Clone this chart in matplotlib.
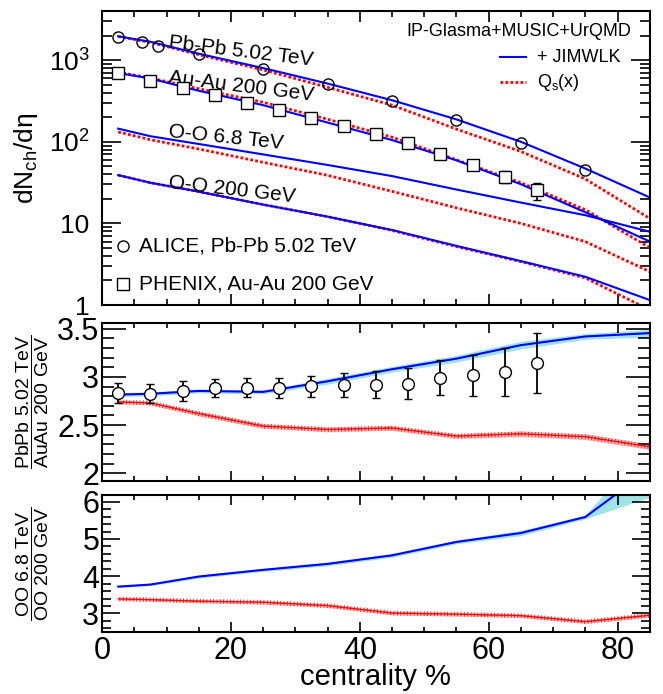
import numpy as np
import matplotlib
matplotlib.use('Agg')
import matplotlib.pyplot as plt
import matplotlib.patheffects as pe
from matplotlib.ticker import MultipleLocator, LogLocator, FixedLocator, NullFormatter

plt.rcParams['font.family'] = ['Liberation Sans', 'DejaVu Sans']
plt.rcParams['mathtext.fontset'] = 'custom'
plt.rcParams['mathtext.rm'] = 'Liberation Sans'
plt.rcParams['mathtext.it'] = 'Liberation Sans:italic'
plt.rcParams['mathtext.bf'] = 'Liberation Sans:bold'

# model centrality bins
cent_model = [2.5, 7.5, 15, 25, 35, 45, 55, 65, 75, 85]

pbpb_jimwlk = [1960, 1680, 1200, 800, 517, 323, 188, 100, 47, 20.8]
pbpb_qsx = [1950, 1650, 1170, 760, 465, 281, 143, 76, 35, 11.5]
auau_jimwlk = [696, 596, 422, 281, 172, 105, 59.3, 30.2, 13.7, 6.0]
auau_qsx = [712, 604, 447, 305, 189, 114, 60, 31.5, 14.7, 5.05]
oo68_jimwlk = [145, 117, 94, 70, 52, 38, 26, 18, 12.6, 7.9]
oo68_qsx = [132, 106, 81.6, 56, 38.8, 24.7, 15.5, 10, 5.98, 2.57]
oo200_jimwlk = [39, 31.5, 24.5, 17, 12.1, 8.3, 5.3, 3.45, 2.22, 1.15]
oo200_qsx = [39, 31.5, 24.5, 17, 12.1, 8.2, 5.2, 3.4, 2.15, 0.87]

# data
alice_cent = [2.5, 6.25, 8.75, 15, 25, 35, 45, 55, 65, 75]
alice_dndeta = [1943, 1666, 1505, 1180, 786, 512, 318, 183, 96.3, 44.9]
phenix_cent = [2.5, 7.5, 12.5, 17.5, 22.5, 27.5, 32.5, 37.5, 42.5, 47.5, 52.5, 57.5, 62.5, 67.5]
phenix_dndeta = [687.4, 560.4, 456.8, 371.5, 302.5, 245.6, 197.2, 156.4, 123.5, 95.3, 70.9, 52.2, 37.5, 25.6]
phenix_err = [37, 28, 23, 19, 16, 14, 12, 10, 9, 8, 6.5, 6, 6.5, 6]

# ratios
ratio_pbau_jimwlk = [2.817, 2.825, 2.855, 2.845, 2.955, 3.08, 3.19, 3.33, 3.42, 3.455]
ratio_pbau_jimwlk_err = [0.02, 0.02, 0.02, 0.02, 0.03, 0.03, 0.035, 0.04, 0.03, 0.04]
ratio_pbau_qsx = [2.74, 2.73, 2.62, 2.49, 2.455, 2.47, 2.386, 2.41, 2.38, 2.276]
ratio_pbau_qsx_err = [0.02, 0.02, 0.025, 0.025, 0.025, 0.025, 0.025, 0.03, 0.03, 0.03]
ratio_pbau_data = [2.834, 2.828, 2.855, 2.886, 2.890, 2.886, 2.903, 2.914, 2.921, 2.931, 2.993, 3.017, 3.052, 3.145]
ratio_pbau_data_err = [0.10, 0.10, 0.10, 0.095, 0.095, 0.10, 0.11, 0.125, 0.14, 0.16, 0.18, 0.21, 0.25, 0.31]

ratio_oo_jimwlk = [3.72, 3.775, 3.99, 4.17, 4.33, 4.56, 4.92, 5.16, 5.59, 6.87]
ratio_oo_jimwlk_err = [0.03, 0.03, 0.04, 0.04, 0.05, 0.05, 0.05, 0.07, 0.05, 0.75]
ratio_oo_qsx = [3.39, 3.37, 3.33, 3.30, 3.21, 3.01, 2.98, 2.94, 2.78, 2.95]
ratio_oo_qsx_err = [0.04, 0.04, 0.04, 0.05, 0.05, 0.05, 0.05, 0.05, 0.05, 0.05]

BLUE = '#0000ff'
RED = '#ff0000'
CYAN_BAND = '#9fe3e6'
RED_BAND = '#ebb3b3'
DOTS = (0, (1.0, 0.8))
# ROOT-like "+" line: small ticks across the line on both sides
CROSSES = [pe.Normal(),
           pe.TickedStroke(spacing=2.4, angle=90, length=0.6, linewidth=0.5),
           pe.TickedStroke(spacing=2.4, angle=-90, length=0.6, linewidth=0.5)]


def style_axis(ax, ylen, xlen, ypad, ysize):
    for s in ax.spines.values():
        s.set_linewidth(1.5)
    ax.tick_params(which='both', direction='in', top=True, right=True, width=1.2)
    ax.tick_params(axis='y', which='major', length=ylen, labelsize=ysize, pad=ypad)
    ax.tick_params(axis='y', which='minor', length=ylen * 0.5)
    ax.tick_params(axis='x', which='major', length=xlen, labelsize=22, pad=3)
    ax.tick_params(axis='x', which='minor', length=xlen * 0.55)
    ax.set_xlim(0, 85)
    ax.xaxis.set_major_locator(MultipleLocator(20))
    ax.xaxis.set_minor_locator(MultipleLocator(5))


def band(ax, y, err, color):
    y = np.array(y)
    err = np.array(err)
    ax.fill_between(cent_model, y - err, y + err, color=color, lw=0)


fig = plt.figure(figsize=(6.63, 6.94), dpi=100)
ax1 = fig.add_axes([0.154, 0.5605, 0.826, 0.4236])
ax2 = fig.add_axes([0.154, 0.3069, 0.826, 0.2277])
ax3 = fig.add_axes([0.154, 0.0893, 0.826, 0.1974])

# ---- top panel
for jim, qs in [(pbpb_jimwlk, pbpb_qsx), (auau_jimwlk, auau_qsx),
                (oo68_jimwlk, oo68_qsx), (oo200_jimwlk, oo200_qsx)]:
    ax1.plot(cent_model, qs, color=RED, lw=2.0, ls=DOTS)
    ax1.plot(cent_model, jim, color=BLUE, lw=1.5)

ax1.plot(alice_cent, alice_dndeta, 'o', mfc='none', mec='black', ms=8, mew=1.0)
ax1.errorbar(phenix_cent, phenix_dndeta, yerr=phenix_err, fmt='s', mfc='white', mec='black',
             ms=8, mew=1.0, ecolor='black', elinewidth=1.2, capsize=3, capthick=1.2, zorder=3)

ax1.set_yscale('log')
ax1.set_ylim(1, 4000)
ax1.yaxis.set_major_locator(FixedLocator([1, 10, 100, 1000]))
ax1.yaxis.set_minor_locator(LogLocator(base=10, subs=np.arange(2, 10)))
ax1.yaxis.set_minor_formatter(NullFormatter())
ax1.set_yticklabels(['1', '10', '$\\mathregular{10^{2}}$', '$\\mathregular{10^{3}}$'])
style_axis(ax1, 14, 8, 9, 19)
ax1.tick_params(axis='x', labelbottom=False)
ax1.set_ylabel('dN$_{\\mathregular{ch}}$/dη', fontsize=19)

# annotations
ann_kw = dict(transform=ax1.transAxes, fontsize=15, ha='left', va='baseline', rotation_mode='anchor')
ax1.text(0.121, 0.873, 'Pb-Pb 5.02 TeV', rotation=-7, **ann_kw)
ax1.text(0.121, 0.754, 'Au-Au 200 GeV', rotation=-7, **ann_kw)
ax1.text(0.121, 0.570, 'O-O 6.8 TeV', rotation=-6, **ann_kw)
ax1.text(0.121, 0.397, 'O-O 200 GeV', rotation=-6.5, **ann_kw)

# legend
ax1.text(0.967, 0.929, 'IP-Glasma+MUSIC+UrQMD', transform=ax1.transAxes, fontsize=13,
         ha='right', va='center')
ax1.plot([0.727, 0.774], [0.843, 0.843], transform=ax1.transAxes, color=BLUE, lw=1.5)
ax1.text(0.794, 0.843, '+ JIMWLK', transform=ax1.transAxes, fontsize=13, ha='left', va='center')
ax1.plot([0.727, 0.774], [0.758, 0.758], transform=ax1.transAxes, color=RED, lw=2.0, ls=DOTS)
ax1.text(0.794, 0.758, 'Q$_{\\mathregular{s}}$(x)', transform=ax1.transAxes, fontsize=13,
         ha='left', va='center')

ax1.plot([0.039], [0.201], 'o', transform=ax1.transAxes, mfc='none', mec='black', ms=8, mew=1.0)
ax1.text(0.068, 0.201, 'ALICE, Pb-Pb 5.02 TeV', transform=ax1.transAxes, fontsize=15, va='center')
ax1.plot([0.039], [0.071], 's', transform=ax1.transAxes, mfc='none', mec='black', ms=8, mew=1.0)
ax1.text(0.068, 0.071, 'PHENIX, Au-Au 200 GeV', transform=ax1.transAxes, fontsize=15, va='center')

# ---- middle panel
band(ax2, ratio_pbau_jimwlk, ratio_pbau_jimwlk_err, CYAN_BAND)
band(ax2, ratio_pbau_qsx, ratio_pbau_qsx_err, RED_BAND)
ax2.plot(cent_model, ratio_pbau_jimwlk, color=BLUE, lw=1.5)
ax2.plot(cent_model, ratio_pbau_qsx, color=RED, lw=0.9, path_effects=CROSSES)
ax2.errorbar(phenix_cent, ratio_pbau_data, yerr=ratio_pbau_data_err, fmt='o', mfc='white',
             mec='black', ms=8.5, mew=1.0, ecolor='black', elinewidth=1.3, capsize=3, capthick=1.3)
ax2.set_ylim(1.92, 3.56)
ax2.yaxis.set_major_locator(FixedLocator([2, 2.5, 3, 3.5]))
ax2.yaxis.set_minor_locator(MultipleLocator(0.1))
ax2.set_yticklabels(['2', '2.5', '3', '3.5'])
style_axis(ax2, 17, 7, 2, 22)
ax2.tick_params(axis='x', labelbottom=False)
ax2.set_ylabel('$\\dfrac{\\mathregular{PbPb\\ 5.02\\ TeV}}{\\mathregular{AuAu\\ 200\\ GeV}}$',
               fontsize=14)

# ---- bottom panel
band(ax3, ratio_oo_jimwlk, ratio_oo_jimwlk_err, CYAN_BAND)
band(ax3, ratio_oo_qsx, ratio_oo_qsx_err, RED_BAND)
ax3.plot(cent_model, ratio_oo_jimwlk, color=BLUE, lw=1.5)
ax3.plot(cent_model, ratio_oo_qsx, color=RED, lw=0.9, path_effects=CROSSES)
ax3.set_ylim(2.5, 6.18)
ax3.yaxis.set_major_locator(MultipleLocator(1))
ax3.yaxis.set_minor_locator(MultipleLocator(0.2))
style_axis(ax3, 13, 7, 2, 22)
ax3.set_ylabel('$\\dfrac{\\mathregular{OO\\ 6.8\\ TeV}}{\\mathregular{OO\\ 200\\ GeV}}$',
               fontsize=14)
ax3.set_xlabel('centrality %', fontsize=21, labelpad=-2)

ax1.yaxis.set_label_coords(-0.113, 0.5)
ax2.yaxis.set_label_coords(-0.093, 0.5)
ax3.yaxis.set_label_coords(-0.093, 0.5)

fig.savefig('out.png', dpi=100)
